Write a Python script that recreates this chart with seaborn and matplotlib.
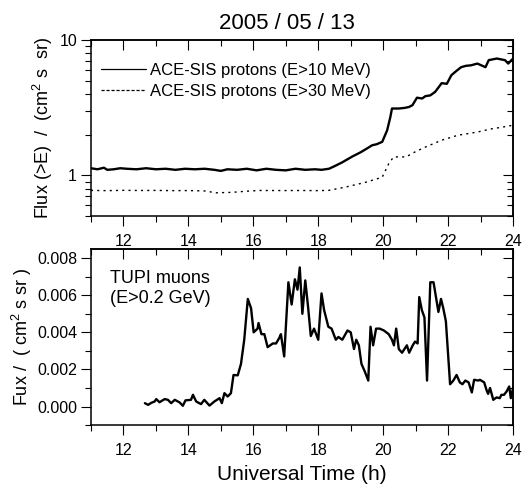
import numpy as np
import pandas as pd
import seaborn as sns
import matplotlib.pyplot as plt
from matplotlib.ticker import MultipleLocator, LogLocator, NullFormatter

# ACE-SIS proton flux (E>10 MeV)
ace10_t = [11.0, 11.2, 11.4, 11.5, 11.7, 11.9, 12.1, 12.4, 12.7, 13.0, 13.3, 13.6, 13.9, 14.2,
           14.5, 14.8, 15.0, 15.2, 15.5, 15.8, 16.1, 16.4, 16.7, 17.0, 17.3, 17.6, 17.9, 18.1,
           18.33, 18.5, 18.74, 19.05, 19.3, 19.46, 19.66, 19.8, 19.97, 20.12, 20.22, 20.27,
           20.48, 20.65, 20.79, 20.9, 21.04, 21.2, 21.3, 21.45, 21.6, 21.8, 21.96, 22.1, 22.25,
           22.4, 22.55, 22.7, 22.9, 23.15, 23.25, 23.5, 23.75, 23.85, 24.0]
ace10_v = [1.13, 1.11, 1.14, 1.10, 1.11, 1.13, 1.12, 1.11, 1.13, 1.11, 1.12, 1.10, 1.12, 1.11,
           1.12, 1.10, 1.08, 1.11, 1.10, 1.12, 1.09, 1.12, 1.10, 1.09, 1.12, 1.10, 1.11, 1.10,
           1.12, 1.17, 1.25, 1.38, 1.48, 1.56, 1.67, 1.70, 1.77, 2.15, 2.70, 3.12,
           3.12, 3.15, 3.20, 3.30, 3.75, 3.70, 3.85, 3.90, 4.14, 4.80, 4.75, 5.50, 5.90,
           6.30, 6.45, 6.50, 6.70, 6.30, 7.10, 7.30, 7.10, 6.70, 7.30]

# ACE-SIS proton flux (E>30 MeV)
ace30_t = [11.0, 11.5, 12.0, 12.5, 13.0, 13.5, 14.0, 14.5, 14.85, 15.35, 15.8, 16.2, 17.0,
           17.5, 18.0, 18.33, 18.84, 19.2, 19.46, 19.97, 20.17, 20.32, 20.7, 21.0, 21.3,
           21.8, 22.3, 22.9, 23.3, 23.7, 24.0]
ace30_v = [0.775, 0.772, 0.776, 0.774, 0.775, 0.772, 0.773, 0.768, 0.744, 0.750, 0.765, 0.774,
           0.773, 0.774, 0.772, 0.776, 0.82, 0.86, 0.89, 0.97, 1.22, 1.37, 1.37, 1.50, 1.62,
           1.82, 1.98, 2.09, 2.20, 2.28, 2.35]

# TUPI muon flux (E>0.2 GeV)
tupi_t = [12.66, 12.76, 12.86, 12.96, 13.01, 13.11, 13.27, 13.37, 13.47, 13.58, 13.73, 13.83,
          13.91, 14.08, 14.14, 14.24, 14.39, 14.49, 14.65, 14.8, 14.96, 15.03, 15.11, 15.21,
          15.31, 15.39, 15.52, 15.62, 15.72, 15.83, 15.93, 16.01, 16.13, 16.16, 16.25, 16.34,
          16.44, 16.6, 16.7, 16.8, 16.85, 16.95, 17.08, 17.18, 17.28, 17.36, 17.43, 17.51,
          17.6, 17.69, 17.77, 17.87, 18.0, 18.1, 18.18, 18.31, 18.41, 18.54, 18.62, 18.74,
          18.9, 19.0, 19.1, 19.17, 19.25, 19.33, 19.43, 19.54, 19.61, 19.69, 19.78, 19.89,
          20.02, 20.17, 20.27, 20.33, 20.4, 20.48, 20.58, 20.73, 20.8, 20.91, 20.98, 21.06,
          21.11, 21.19, 21.27, 21.35, 21.45, 21.55, 21.7, 21.78, 21.85, 21.93, 22.06, 22.16,
          22.26, 22.36, 22.44, 22.53, 22.63, 22.73, 22.8, 22.93, 22.98, 23.11, 23.18, 23.23,
          23.29, 23.39, 23.49, 23.59, 23.64, 23.72, 23.8, 23.88, 23.93, 24.01, 24.08]
tupi_v = [0.00018, 0.00009, 0.0002, 0.00027, 0.0004, 0.00023, 0.0004, 0.00036, 0.00018, 0.00036,
          0.00022, 0.00004, 0.00033, 0.00036, 0.00063, 0.00027, 0.00013, 0.00036, 0.00005, 0.00027,
          0.00045, 0.00018, 0.00072, 0.00054, 0.00072, 0.0017, 0.00168, 0.0023, 0.0036, 0.0058,
          0.0053, 0.0040, 0.0042, 0.0045, 0.0039, 0.0039, 0.0032, 0.0034, 0.0034, 0.0037,
          0.0039, 0.0027, 0.0067, 0.0055, 0.00686, 0.0063, 0.0075, 0.0050, 0.0068, 0.0053,
          0.0038, 0.0042, 0.0036, 0.0061, 0.0052, 0.0043, 0.0042, 0.0036, 0.00375, 0.0036,
          0.0041, 0.0040, 0.0031, 0.0036, 0.0033, 0.0023, 0.0019, 0.0014, 0.0043, 0.0033,
          0.0042, 0.0042, 0.0041, 0.0039, 0.0036, 0.0033, 0.0042, 0.0031, 0.0029, 0.0033,
          0.0029, 0.0033, 0.0035, 0.0034, 0.0059, 0.0052, 0.0048, 0.0014, 0.0067, 0.0067,
          0.0051, 0.0058, 0.0053, 0.0046, 0.0012, 0.0014, 0.0017, 0.0013, 0.0012, 0.0014,
          0.0013, 0.00076, 0.00144, 0.0014, 0.00144, 0.0013, 0.0009, 0.00068, 0.0010, 0.00036,
          0.00049, 0.00045, 0.00063, 0.00063, 0.00081, 0.00108, 0.00045, 0.00108, 0.00067]

ace10 = pd.DataFrame({'t': ace10_t, 'flux': ace10_v})
ace30 = pd.DataFrame({'t': ace30_t, 'flux': ace30_v})
tupi = pd.DataFrame({'t': tupi_t, 'flux': tupi_v})

sns.set_style('ticks')
plt.rcParams['font.family'] = ['Liberation Sans', 'DejaVu Sans']
plt.rcParams['mathtext.fontset'] = 'custom'
plt.rcParams['mathtext.rm'] = 'Liberation Sans'
for key in ('text.color', 'axes.labelcolor', 'xtick.color', 'ytick.color'):
    plt.rcParams[key] = 'black'

fig = plt.figure(figsize=(5.25, 4.88), dpi=100)
ax1 = fig.add_axes([0.1733, 0.557, 0.804, 0.361])
ax2 = fig.add_axes([0.1733, 0.129, 0.804, 0.361])

# top panel: ACE protons
sns.lineplot(data=ace10, x='t', y='flux', ax=ax1, color='black', lw=1.7,
             label='ACE-SIS protons (E>10 MeV)')
sns.lineplot(data=ace30, x='t', y='flux', ax=ax1, color='black', lw=1.0,
             linestyle=(0, (1.5, 3)), label='ACE-SIS protons (E>30 MeV)')
ax1.set_yscale('log')
ax1.set_ylim(0.5, 10)
ax1.set_xlim(11, 24)
ax1.set_yticks([1, 10])
ax1.set_yticklabels(['1', '10'])
ax1.yaxis.set_minor_locator(LogLocator(base=10, subs=np.arange(2, 10), numticks=20))
ax1.yaxis.set_minor_formatter(NullFormatter())
ax1.set_xlabel('')
ax1.set_ylabel('Flux (>E)  /  (cm$^2$ s  sr)', fontsize=13, labelpad=3)
ax1.set_title('2005 / 05 / 13', fontsize=16, pad=8, x=0.464)
leg = ax1.legend(loc='upper left', bbox_to_anchor=(0.024, 0.872), frameon=False,
                 fontsize=12, handlelength=2.7, handletextpad=0.25, borderpad=0,
                 borderaxespad=0, labelspacing=0.38)
for h in leg.get_lines():
    h.set_linewidth(0.9)
leg.get_lines()[1].set_linestyle((0, (2.5, 1.5)))

# bottom panel: TUPI muons
sns.lineplot(data=tupi, x='t', y='flux', ax=ax2, color='black', lw=1.7)
ax2.set_xlim(11, 24)
ax2.set_ylim(-0.001, 0.0085)
ax2.yaxis.set_major_locator(MultipleLocator(0.002))
ax2.yaxis.set_minor_locator(MultipleLocator(0.001))
ax2.yaxis.set_major_formatter(plt.FuncFormatter(lambda v, p: f'{v:.3f}'))
ax2.set_xlabel('Universal Time (h)', fontsize=15, labelpad=5)
ax2.set_ylabel('Fux /  ( cm$^2$ s sr )', fontsize=13, labelpad=2)
ax2.text(0.045, 0.88, 'TUPI muons\n(E>0.2 GeV)', transform=ax2.transAxes, fontsize=13,
         va='top', ha='left', linespacing=1.25)

for ax in (ax1, ax2):
    ax.xaxis.set_major_locator(MultipleLocator(2))
    ax.xaxis.set_minor_locator(MultipleLocator(1))
    ax.tick_params(which='both', direction='out', top=False, right=False,
                   labelsize=11.5, width=0.8, color='black', labelcolor='black')
    ax.tick_params(axis='x', pad=6)
    ax.tick_params(axis='y', pad=3)
    ax.tick_params(which='major', length=7)
    ax.tick_params(which='minor', length=4)
    for s in ax.spines.values():
        s.set_linewidth(1.1)
        s.set_color('black')

    # mirrored ticks on top and right, pointing inward
    top = ax.secondary_xaxis('top')
    top.xaxis.set_major_locator(MultipleLocator(2))
    top.xaxis.set_minor_locator(MultipleLocator(1))
    top.tick_params(which='both', direction='in', labeltop=False, width=0.8, color='black')
    top.tick_params(which='major', length=7)
    top.tick_params(which='minor', length=4)
    right = ax.secondary_yaxis('right')
    if ax is ax1:
        right.set_yticks([1, 10])
        right.yaxis.set_minor_locator(LogLocator(base=10, subs=np.arange(2, 10), numticks=20))
        right.yaxis.set_minor_formatter(NullFormatter())
    else:
        right.yaxis.set_major_locator(MultipleLocator(0.002))
        right.yaxis.set_minor_locator(MultipleLocator(0.001))
    right.tick_params(which='both', direction='in', labelright=False, width=0.8, color='black')
    right.tick_params(which='major', length=7)
    right.tick_params(which='minor', length=4)
    for sec in (top, right):
        for s in sec.spines.values():
            s.set_linewidth(1.1)
            s.set_color('black')

fig.savefig('out.png', dpi=100)
